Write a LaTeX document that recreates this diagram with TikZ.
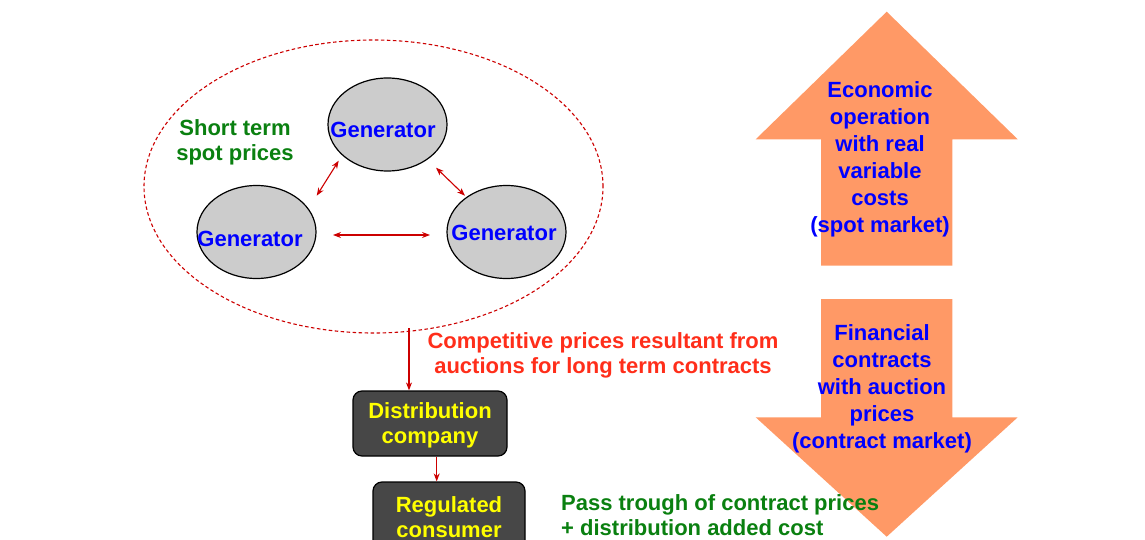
\documentclass[tikz,border=0pt]{standalone}
\usepackage{fontspec}
\setmainfont{Liberation Sans}
\usetikzlibrary{arrows.meta,shapes.geometric}
\definecolor{gengray}{HTML}{CCCCCC}
\definecolor{boxgray}{HTML}{474747}
\definecolor{txtblue}{HTML}{0000FF}
\definecolor{txtgreen}{HTML}{0A8010}
\definecolor{txtred}{HTML}{FF2E1A}
\definecolor{txtyellow}{HTML}{FFFF00}
\definecolor{arrred}{HTML}{CC0000}
\definecolor{salmon}{HTML}{FF9966}
\tikzset{
  gen/.style={ellipse,draw=black,line width=1.2pt,fill=gengray,minimum width=119pt,minimum height=93pt,inner sep=0pt},
  gentxt/.style={text=txtblue,font=\bfseries\fontsize{22}{25}\selectfont,inner sep=0pt},
  darkbox/.style={draw=black,line width=1.2pt,fill=boxgray,rounded corners=9pt,inner sep=0pt},
  boxtxt/.style={text=txtyellow,font=\bfseries\fontsize{22}{25}\selectfont,align=center,inner sep=0pt},
  link/.style={draw=arrred,line width=1.1pt,{Stealth[length=8pt,width=6pt]}-{Stealth[length=8pt,width=6pt]}},
  flow/.style={draw=arrred,line width=1.1pt,-{Stealth[length=8pt,width=6pt]}},
  lbl/.style={font=\bfseries\fontsize{22}{25}\selectfont,inner sep=0pt},
  arrtxt/.style={text=txtblue,font=\bfseries\fontsize{22}{27}\selectfont,align=center,inner sep=0pt},
}
\begin{document}
\begin{tikzpicture}[x=1pt,y=-1pt]
\useasboundingbox (0,0) rectangle (1145,540);
% big arrows (behind the texts)
\fill[salmon] (886.7,11.7) -- (1017.7,139.3) -- (952.3,139.3) -- (952.3,265.7) -- (821,265.7) -- (821,139.3) -- (755.7,139.3) -- cycle;
\fill[salmon] (821,299) -- (952.3,299) -- (952.3,417.3) -- (1017.7,417.3) -- (886.7,536.7) -- (755.7,417.3) -- (821,417.3) -- cycle;
% market region
\node[draw=arrred,line width=1.1pt,dash pattern=on 3.5pt off 2.5pt,ellipse,minimum width=459pt,minimum height=293pt,inner sep=0pt] (market) at (373.5,186.5) {};
% generators
\node[gen] (gtop) at (387.5,124.5) {};
\node[gen] (gleft) at (256.5,232) {};
\node[gen] (gright) at (506.5,232) {};
\node[gentxt] (ttop) at (383,129.5) {Generator};
\node[gentxt] (tleft) at (250,238.5) {Generator};
\node[gentxt] (tright) at (504,232.5) {Generator};
% links
\coordinate (a1) at (316.7,195.7); \coordinate (a2) at (338.7,160.7);
\coordinate (b1) at (436,167.7); \coordinate (b2) at (465,195.7);
\coordinate (c1) at (333,235); \coordinate (c2) at (430,235);
\draw[link] (a1) -- (a2);
\draw[link] (b1) -- (b2);
\draw[link] (c1) -- (c2);
\node[lbl,text=txtgreen,align=center] (spot) at (235,142) {Short term\\spot prices};
% boxes
\node[darkbox,minimum width=154pt,minimum height=65pt] (dist) at (430,423.5) {};
\node[boxtxt] (disttxt) at (430,425.5) {Distribution\\company};
\node[darkbox,minimum width=152pt,minimum height=80pt] (cons) at (449,522) {};
\node[boxtxt] (constxt) at (449,517.5) {Regulated\\consumer};
\coordinate (m1) at (409,328);
\draw[flow] (m1) -- (m1 |- dist.north);
\draw[flow] (dist.south -| 436.7,0) -- (cons.north -| 436.7,0);
\node[lbl,text=txtred,align=center] (comp) at (603,355) {Competitive prices resultant from\\auctions for long term contracts};
\node[lbl,text=txtgreen,align=left,anchor=west] (pass) at (561,515.5) {Pass trough of contract prices\\+ distribution added cost};
\node[arrtxt] (uptxt) at (880,159) {Economic\\operation\\with real\\variable\\costs\\(spot market)};
\node[arrtxt] (dntxt) at (882,389) {Financial\\contracts\\with auction\\prices\\(contract market)};
\end{tikzpicture}
\end{document}
